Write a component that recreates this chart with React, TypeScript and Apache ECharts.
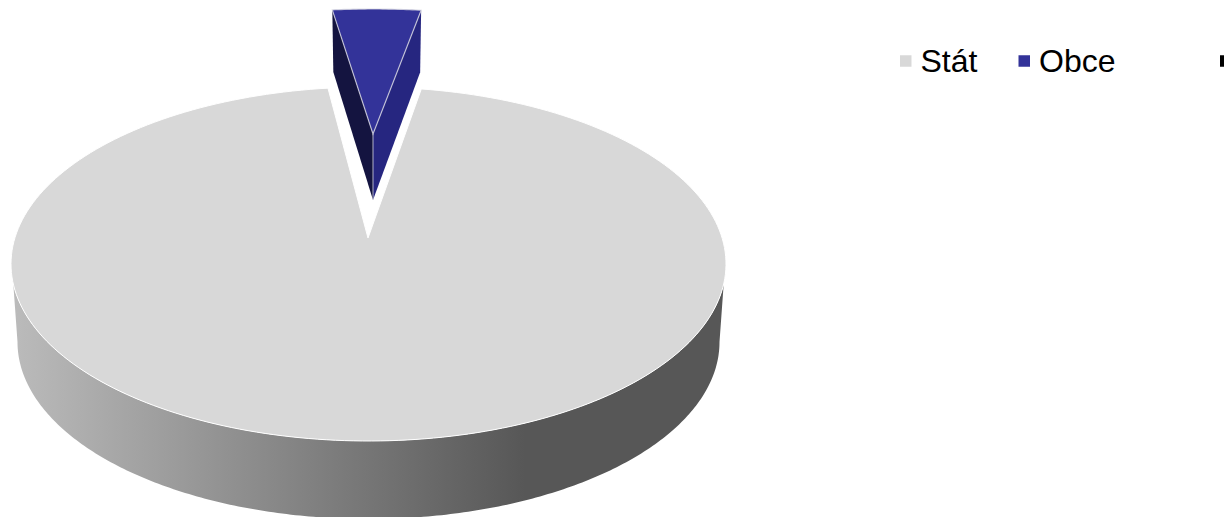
import React, { useEffect, useRef } from "react";
import * as echarts from "echarts";

const categories = ["Stát", "Obce", " "];
const values = [95.83, 4.17, 0];
const colors = ["#d8d8d8", "#333399", "#000000"];
const legendLeft = [900, 1018.5, 1220];

const TOTAL = values.reduce((a, b) => a + b, 0);
const START_DEG = 8.5;
const rad = (d: number) => (d * Math.PI) / 180;

// angular range of a category, clockwise from twelve o'clock
function sliceRange(i: number) {
  let acc = 0;
  for (let k = 0; k < i; k++) acc += values[k];
  const a0 = START_DEG + (acc / TOTAL) * 360;
  const a1 = START_DEG + ((acc + values[i]) / TOTAL) * 360;
  return [a0, a1];
}

function arc(cx: number, cy: number, rx: number, ry: number, a0: number, a1: number, n = 240) {
  const pts: number[][] = [];
  for (let i = 0; i <= n; i++) {
    const t = rad(a0 + ((a1 - a0) * i) / n);
    pts.push([cx + rx * Math.sin(t), cy - ry * Math.cos(t)]);
  }
  return pts;
}

const TOP = { cx: 368.5, cy: 264, rx: 357.5, ry: 177, apexX: 368, apexY: 238 };
const BASE = { cx: 368.5, cy: 342, rx: 351, ry: 177 };
const PIECE = { apexX: 373, apexY: 134, rx: 340, ry: 125, drop: 65, shift: -0.36 };

function renderStat() {
  const [a0, a1] = sliceRange(0);
  const top = [[TOP.apexX, TOP.apexY], ...arc(TOP.cx, TOP.cy, TOP.rx, TOP.ry, a0, a1)];
  const front = arc(TOP.cx, TOP.cy, TOP.rx, TOP.ry, 96.5, 263.5);
  const back = arc(BASE.cx, BASE.cy, BASE.rx, BASE.ry, 270, 90);
  return {
    type: "group",
    children: [
      {
        type: "polygon",
        shape: { points: [...front, ...back] },
        style: {
          fill: new echarts.graphic.LinearGradient(0, 0, 1, 0, [
            { offset: 0, color: "#bbbbbb" },
            { offset: 0.72, color: "#575757" },
            { offset: 1, color: "#575757" },
          ]),
          stroke: "none",
        },
      },
      {
        type: "polygon",
        shape: { points: top },
        style: { fill: colors[0], stroke: "#ffffff", lineWidth: 1 },
      },
    ],
  };
}

function renderObce() {
  const [a0, a1] = sliceRange(1);
  const rim = arc(PIECE.apexX, PIECE.apexY, PIECE.rx, PIECE.ry, a0 + PIECE.shift, a1 + PIECE.shift, 30);
  const first = rim[0];
  const last = rim[rim.length - 1];
  const apex = [PIECE.apexX, PIECE.apexY];
  const apexLow = [PIECE.apexX, PIECE.apexY + 66];
  const edge = "rgba(215,215,225,0.8)";
  return {
    type: "group",
    children: [
      {
        type: "polygon",
        shape: { points: [first, apex, apexLow, [first[0] + 1, first[1] + 62]] },
        style: { fill: "#141440", stroke: "none" },
      },
      {
        type: "polygon",
        shape: { points: [last, apex, apexLow, [last[0] - 1, last[1] + 62]] },
        style: { fill: "#262680", stroke: "none" },
      },
      {
        type: "polygon",
        shape: { points: [apex, ...rim] },
        style: { fill: colors[1], stroke: edge, lineWidth: 1.2 },
      },
      {
        type: "line",
        shape: { x1: apex[0], y1: apex[1], x2: apexLow[0], y2: apexLow[1] },
        style: { stroke: edge, lineWidth: 1 },
      },
    ],
  };
}

function renderRest() {
  return { type: "group", children: [] };
}

const renderers = [renderStat, renderObce, renderRest];

export default function App() {
  const ref = useRef<HTMLDivElement>(null);
  useEffect(() => {
    const chart = echarts.init(ref.current!, null, { renderer: "svg" });
    chart.setOption({
      animation: false,
      backgroundColor: "#ffffff",
      color: colors,
      legend: categories.map((name, i) => ({
        data: [{ name, icon: "rect" }],
        left: legendLeft[i],
        top: 45,
        padding: 0,
        selectedMode: false,
        itemWidth: 11.5,
        itemHeight: 11.5,
        itemGap: 0,
        textStyle: {
          color: "#000000",
          fontFamily: "Liberation Sans",
          fontSize: 32,
          padding: [0, 0, 0, 4],
        },
      })),
      series: categories.map((name, i) => ({
        type: "custom",
        name,
        coordinateSystem: "none",
        silent: true,
        itemStyle: { color: colors[i] },
        data: [values[i]],
        renderItem: renderers[i],
      })),
    });
    return () => chart.dispose();
  }, []);
  return (
    <div
      ref={ref}
      style={{ position: "fixed", left: 0, top: 0, width: 1224, height: 517, overflow: "hidden" }}
    />
  );
}
